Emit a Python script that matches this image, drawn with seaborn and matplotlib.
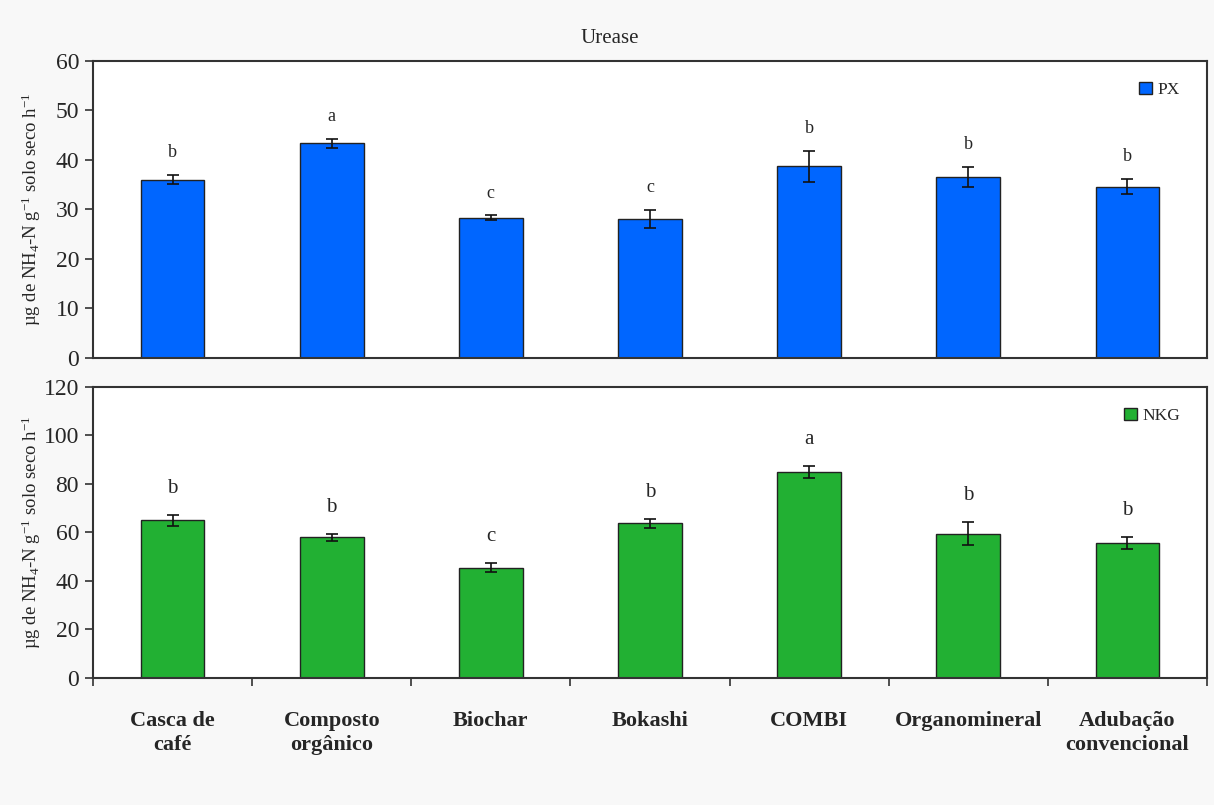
import matplotlib
matplotlib.use("Agg")
import matplotlib.pyplot as plt
import matplotlib.patches as mpatches
import seaborn as sns
import pandas as pd
import numpy as np

# Treatments
categories = ["Casca de\ncafé", "Composto\norgânico", "Biochar", "Bokashi",
              "COMBI", "Organomineral", "Adubação\nconvencional"]

# Urease activity, PX site
px_mean = [36.0, 43.4, 28.3, 28.1, 38.7, 36.6, 34.6]
px_err = [0.9, 0.9, 0.5, 1.8, 3.2, 2.0, 1.5]
px_letters = ["b", "a", "c", "c", "b", "b", "b"]

# Urease activity, NKG site
nkg_mean = [65.0, 58.0, 45.5, 63.7, 85.0, 59.5, 55.8]
nkg_err = [2.2, 1.5, 2.0, 2.0, 2.5, 4.8, 2.5]
nkg_letters = ["b", "b", "c", "b", "a", "b", "b"]

px_color = "#0066ff"
nkg_color = "#22b033"

sns.set_theme(style="white")
plt.rcParams["font.family"] = ["Liberation Serif", "DejaVu Serif"]
plt.rcParams["mathtext.fontset"] = "custom"
plt.rcParams["mathtext.rm"] = "Liberation Serif"
plt.rcParams["mathtext.it"] = "Liberation Serif:italic"

fig = plt.figure(figsize=(12.14, 8.05), dpi=100, facecolor="#f8f8f8")
ax1 = fig.add_axes([0.0766, 0.5553, 0.9176, 0.3690])
ax2 = fig.add_axes([0.0766, 0.1578, 0.9176, 0.3615])

ylabel = r"µg de NH$_4$-N g$^{-1}$ solo seco h$^{-1}$"
spine_color = "#333333"


def panel(ax, means, errs, letters, color, label, ymax, step, letter_size, letter_off):
    df = pd.DataFrame({"tratamento": categories, "valor": means})
    sns.barplot(data=df, x="tratamento", y="valor", color=color, width=0.4,
                edgecolor="#222222", linewidth=1.0, saturation=1, errorbar=None, ax=ax)
    x = np.arange(len(categories))
    ax.errorbar(x, means, yerr=errs, fmt="none", ecolor="#111111",
                elinewidth=1.2, capsize=4, capthick=1.2)
    for xi, m, e, t in zip(x, means, errs, letters):
        ax.annotate(t, (xi, m + e), xytext=(0, letter_off), textcoords="offset points",
                    ha="center", va="bottom", fontsize=letter_size)
    ax.set_xlim(-0.5, len(categories) - 0.5)
    ax.set_ylim(0, ymax)
    ax.set_yticks(np.arange(0, ymax + 1, step))
    ax.tick_params(axis="y", direction="out", length=6, width=1.2,
                   color=spine_color, labelsize=17, pad=4, left=True)
    ax.set_xlabel("")
    ax.set_ylabel(ylabel, fontsize=13.5)
    ax.yaxis.set_label_coords(-0.045, 0.5)
    ax.set_facecolor("white")
    for s in ax.spines.values():
        s.set_visible(True)
        s.set_color(spine_color)
        s.set_linewidth(1.5)
    handle = mpatches.Patch(facecolor=color, edgecolor="#222222", linewidth=1.0, label=label)
    ax.legend(handles=[handle], loc="upper right", bbox_to_anchor=(0.985, 0.965),
              frameon=False, fontsize=12.5, handlelength=0.75, handleheight=0.75,
              handletextpad=0.3, borderaxespad=0.2)


panel(ax1, px_mean, px_err, px_letters, px_color, "PX", 60, 10, 13, 10)
panel(ax2, nkg_mean, nkg_err, nkg_letters, nkg_color, "NKG", 120, 20, 15, 12)

# Top panel: no x ticks or labels
ax1.set_xticks([])

# Bottom panel: boundary ticks between treatments, labels at bar centres
ax2.set_xticks(np.arange(len(categories)))
ax2.set_xticklabels(categories, fontweight="bold", fontsize=16, linespacing=1.25, va="top")
ax2.set_xticks(np.arange(-0.5, len(categories)), minor=True)
ax2.tick_params(axis="x", which="major", length=0, pad=24)
ax2.tick_params(axis="x", which="minor", direction="out", length=6, width=1.2,
                color=spine_color, bottom=True)

fig.text(0.5025, 0.952, "Urease", ha="center", va="center", fontsize=15)

fig.savefig("out.png", dpi=100, facecolor=fig.get_facecolor())
